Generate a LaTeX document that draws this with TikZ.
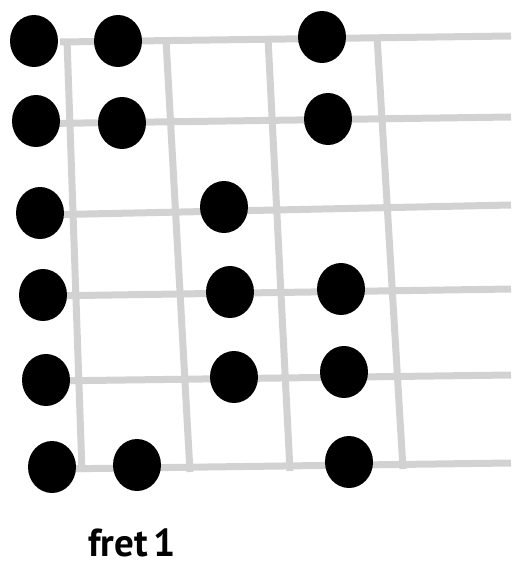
\documentclass[tikz,border=0pt]{standalone}
\usepackage{fontspec}
\setmainfont{PT Sans}
\usetikzlibrary{shapes.geometric}
\definecolor{gridgray}{RGB}{210,210,210}
\tikzset{
  fretline/.style={draw=gridgray, line width=7pt},
  stringline/.style={draw=gridgray, line width=7pt},
  dot/.style={ellipse, fill=black, minimum width=48pt, minimum height=52pt, inner sep=0pt},
  lbl/.style={inner sep=0pt, anchor=base west, font=\fontsize{39}{39}\selectfont\bfseries}
}
\begin{document}
\begin{tikzpicture}[x=1pt,y=-1pt]
\useasboundingbox (0,0) rectangle (511,567);
% string end points
\coordinate (s1a) at (60,42);  \coordinate (s1b) at (511,36);
\coordinate (s2a) at (12,124); \coordinate (s2b) at (511,117);
\coordinate (s3a) at (40,215); \coordinate (s3b) at (511,205);
\coordinate (s4a) at (45,296); \coordinate (s4b) at (511,289);
\coordinate (s5a) at (48,381); \coordinate (s5b) at (511,375);
\coordinate (s6a) at (55,469); \coordinate (s6b) at (511,463);
% fret end points
\coordinate (f1a) at (67,40);  \coordinate (f1b) at (82,472);
\coordinate (f2a) at (166,40); \coordinate (f2b) at (190,472);
\coordinate (f3a) at (268,38); \coordinate (f3b) at (290,471);
\coordinate (f4a) at (377,36); \coordinate (f4b) at (403,469);
\foreach \i in {1,...,6} \draw[stringline] (s\i a) -- (s\i b);
\foreach \i in {1,...,4} \draw[fretline] (f\i a) -- (f\i b);
% dots
\node[dot] (d11) at (34,41) {};
\node[dot] (d12) at (118,41) {};
\node[dot] (d13) at (322,37) {};
\node[dot] (d21) at (36,121) {};
\node[dot] (d22) at (122,123) {};
\node[dot] (d23) at (328,119) {};
\node[dot] (d31) at (40,213) {};
\node[dot] (d32) at (224,207) {};
\node[dot] (d41) at (43,295) {};
\node[dot] (d42) at (230,292) {};
\node[dot] (d43) at (341,289) {};
\node[dot] (d51) at (46,380) {};
\node[dot] (d52) at (234,377) {};
\node[dot] (d53) at (344,372) {};
\node[dot] (d61) at (52,467) {};
\node[dot] (d62) at (137,465) {};
\node[dot] (d63) at (349,462) {};
\node[lbl] (lab) at (88,556) {fret\hspace{0.14em}1};
\end{tikzpicture}
\end{document}
